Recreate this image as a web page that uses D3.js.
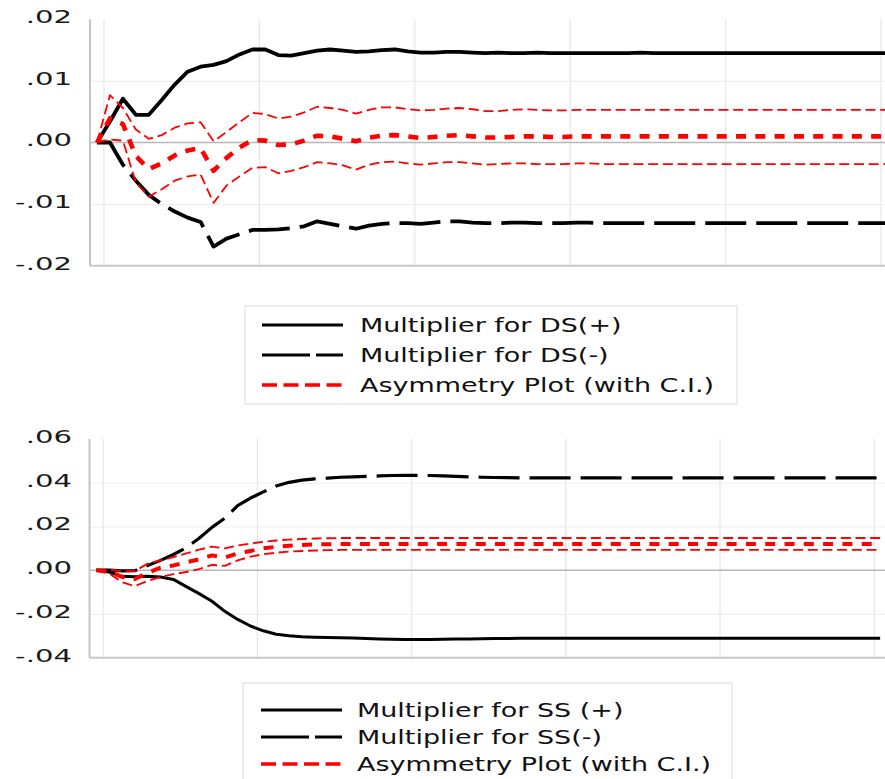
<!DOCTYPE html>
<html>
<head>
<meta charset="utf-8">
<script src="https://cdn.jsdelivr.net/npm/d3@7"></script>
<style>
  body { margin: 0; background: #fff; }
  svg { display: block; }
</style>
</head>
<body>
<div id="chart"></div>
<script>
// ! horizon (periods 0..61)
const periods = d3.range(62);

// ! top panel: DS multipliers
const dsPos = [0, 0.0034, 0.0071, 0.0045, 0.0045, 0.0069, 0.0094, 0.0115, 0.0123, 0.0126,
  0.0132, 0.0143, 0.0151, 0.0151, 0.0142, 0.0141, 0.0145, 0.0149, 0.0151, 0.0149,
  0.0147, 0.0148, 0.0150, 0.0151, 0.0148, 0.0146, 0.0146, 0.0147, 0.0147, 0.0146,
  0.0145, 0.0146, 0.0145, 0.0145, 0.0146, 0.0145, 0.0145, 0.0145, 0.0145, 0.0145,
  0.0145, 0.0145, 0.0146, 0.0145, 0.0145, 0.0145, 0.0145, 0.0145, 0.0145, 0.0145,
  0.0145, 0.0145, 0.0145, 0.0145, 0.0145, 0.0145, 0.0145, 0.0145, 0.0145, 0.0145,
  0.0145, 0.0145];
const dsNeg = [0, 0, -0.0036, -0.0062, -0.0085, -0.0100, -0.0112, -0.0122, -0.0129, -0.0169,
  -0.0156, -0.0149, -0.0142, -0.0142, -0.0141, -0.0139, -0.0136, -0.0128, -0.0132, -0.0136,
  -0.0140, -0.0135, -0.0132, -0.0131, -0.0131, -0.0132, -0.0130, -0.0128, -0.0128, -0.0130,
  -0.0131, -0.0131, -0.0130, -0.0130, -0.0131, -0.0131, -0.0131, -0.0130, -0.0130, -0.0131,
  -0.0131, -0.0131, -0.0131, -0.0131, -0.0131, -0.0131, -0.0131, -0.0131, -0.0131, -0.0131,
  -0.0131, -0.0131, -0.0131, -0.0131, -0.0131, -0.0131, -0.0131, -0.0131, -0.0131, -0.0131,
  -0.0131, -0.0131];
const dsAsym = [0, 0.0039, 0.0030, -0.0022, -0.0043, -0.0034, -0.0021, -0.0013, -0.0009, -0.0046,
  -0.0025, -0.0008, 0.0004, 0.0003, -0.0004, -0.0003, 0.0003, 0.0011, 0.0010, 0.0006,
  0.0002, 0.0008, 0.0011, 0.0012, 0.0010, 0.0007, 0.0009, 0.0011, 0.0012, 0.0010,
  0.0008, 0.0008, 0.0009, 0.0010, 0.0010, 0.0009, 0.0009, 0.0010, 0.0010, 0.0010,
  0.0010, 0.0010, 0.0010, 0.0010, 0.0010, 0.0010, 0.0010, 0.0010, 0.0010, 0.0010,
  0.0010, 0.0010, 0.0010, 0.0010, 0.0010, 0.0010, 0.0010, 0.0010, 0.0010, 0.0010,
  0.0010, 0.0010];
const dsUpper = [0, 0.0077, 0.0056, 0.0021, 0.0006, 0.0012, 0.0024, 0.0031, 0.0033, 0.0002,
  0.0017, 0.0033, 0.0048, 0.0046, 0.0039, 0.0042, 0.0049, 0.0058, 0.0056, 0.0053,
  0.0047, 0.0053, 0.0057, 0.0057, 0.0054, 0.0052, 0.0053, 0.0055, 0.0056, 0.0054,
  0.0051, 0.0051, 0.0053, 0.0054, 0.0053, 0.0052, 0.0052, 0.0053, 0.0053, 0.0053,
  0.0053, 0.0053, 0.0053, 0.0053, 0.0053, 0.0053, 0.0053, 0.0053, 0.0053, 0.0053,
  0.0053, 0.0053, 0.0053, 0.0053, 0.0053, 0.0053, 0.0053, 0.0053, 0.0053, 0.0053,
  0.0053, 0.0053];
const dsLower = [0, 0.0005, 0.0003, -0.0065, -0.0088, -0.0076, -0.0062, -0.0055, -0.0052, -0.0098,
  -0.0070, -0.0055, -0.0041, -0.0040, -0.0050, -0.0046, -0.0040, -0.0032, -0.0034, -0.0037,
  -0.0044, -0.0036, -0.0032, -0.0031, -0.0034, -0.0036, -0.0034, -0.0032, -0.0032, -0.0034,
  -0.0036, -0.0035, -0.0034, -0.0034, -0.0035, -0.0035, -0.0035, -0.0034, -0.0034, -0.0035,
  -0.0035, -0.0035, -0.0035, -0.0035, -0.0035, -0.0035, -0.0035, -0.0035, -0.0035, -0.0035,
  -0.0035, -0.0035, -0.0035, -0.0035, -0.0035, -0.0035, -0.0035, -0.0035, -0.0035, -0.0035,
  -0.0035, -0.0035];

// ! bottom panel: SS multipliers
const ssPos = [0, -0.0008, -0.0028, -0.0030, -0.0028, -0.0031, -0.0042, -0.0075, -0.0107, -0.0142,
  -0.0188, -0.0225, -0.0255, -0.0277, -0.0293, -0.0300, -0.0304, -0.0306, -0.0308, -0.0309,
  -0.0310, -0.0312, -0.0314, -0.0316, -0.0317, -0.0317, -0.0317, -0.0316, -0.0315, -0.0314,
  -0.0313, -0.0312, -0.0312, -0.0311, -0.0311, -0.0311, -0.0311, -0.0311, -0.0311, -0.0311,
  -0.0311, -0.0311, -0.0311, -0.0311, -0.0311, -0.0311, -0.0311, -0.0311, -0.0311, -0.0311,
  -0.0311, -0.0311, -0.0311, -0.0311, -0.0311, -0.0311, -0.0311, -0.0311, -0.0311, -0.0311,
  -0.0311, -0.0311];
const ssNeg = [0, 0, -0.0003, -0.0002, 0.0022, 0.0045, 0.0072, 0.0103, 0.0146, 0.0196,
  0.0238, 0.0295, 0.0330, 0.0358, 0.0385, 0.0402, 0.0412, 0.0418, 0.0421, 0.0425,
  0.0427, 0.0429, 0.0431, 0.0433, 0.0434, 0.0434, 0.0433, 0.0431, 0.0429, 0.0427,
  0.0425, 0.0424, 0.0423, 0.0422, 0.0422, 0.0422, 0.0422, 0.0422, 0.0422, 0.0422,
  0.0422, 0.0422, 0.0422, 0.0422, 0.0422, 0.0422, 0.0422, 0.0422, 0.0422, 0.0422,
  0.0422, 0.0422, 0.0422, 0.0422, 0.0422, 0.0422, 0.0422, 0.0422, 0.0422, 0.0422,
  0.0422, 0.0422];
const ssAsym = [0, -0.0008, -0.0030, -0.0040, -0.0012, 0.0012, 0.0022, 0.0036, 0.0050, 0.0068,
  0.0058, 0.0077, 0.0088, 0.0100, 0.0107, 0.0112, 0.0115, 0.0118, 0.0119, 0.0120,
  0.0120, 0.0120, 0.0120, 0.0120, 0.0120, 0.0120, 0.0120, 0.0120, 0.0120, 0.0120,
  0.0120, 0.0120, 0.0120, 0.0120, 0.0120, 0.0120, 0.0120, 0.0120, 0.0120, 0.0120,
  0.0120, 0.0120, 0.0120, 0.0120, 0.0120, 0.0120, 0.0120, 0.0120, 0.0120, 0.0120,
  0.0120, 0.0120, 0.0120, 0.0120, 0.0120, 0.0120, 0.0120, 0.0120, 0.0120, 0.0120,
  0.0120, 0.0120];
const ssUpper = [0, 0.0003, -0.0005, -0.0004, 0.0030, 0.0045, 0.0060, 0.0077, 0.0094, 0.0108,
  0.0100, 0.0113, 0.0122, 0.0130, 0.0136, 0.0140, 0.0143, 0.0145, 0.0146, 0.0147,
  0.0147, 0.0147, 0.0147, 0.0147, 0.0147, 0.0147, 0.0147, 0.0147, 0.0147, 0.0147,
  0.0147, 0.0147, 0.0147, 0.0147, 0.0147, 0.0147, 0.0147, 0.0147, 0.0147, 0.0147,
  0.0147, 0.0147, 0.0147, 0.0147, 0.0147, 0.0147, 0.0147, 0.0147, 0.0147, 0.0147,
  0.0147, 0.0147, 0.0147, 0.0147, 0.0147, 0.0147, 0.0147, 0.0147, 0.0147, 0.0147,
  0.0147, 0.0147];
const ssLower = [0, -0.0015, -0.0055, -0.0073, -0.0048, -0.0031, -0.0018, -0.0008, 0.0005, 0.0024,
  0.0020, 0.0045, 0.0062, 0.0073, 0.0080, 0.0085, 0.0088, 0.0090, 0.0092, 0.0093,
  0.0093, 0.0093, 0.0093, 0.0093, 0.0093, 0.0093, 0.0093, 0.0093, 0.0093, 0.0093,
  0.0093, 0.0093, 0.0093, 0.0093, 0.0093, 0.0093, 0.0093, 0.0093, 0.0093, 0.0093,
  0.0093, 0.0093, 0.0093, 0.0093, 0.0093, 0.0093, 0.0093, 0.0093, 0.0093, 0.0093,
  0.0093, 0.0093, 0.0093, 0.0093, 0.0093, 0.0093, 0.0093, 0.0093, 0.0093, 0.0093,
  0.0093, 0.0093];

// ! axis ticks and legend labels
const topTicks = [0.02, 0.01, 0, -0.01, -0.02];
const topTickLabels = [".02", ".01", ".00", "-.01", "-.02"];
const bottomTicks = [0.06, 0.04, 0.02, 0, -0.02, -0.04];
const bottomTickLabels = [".06", ".04", ".02", ".00", "-.02", "-.04"];
const gridPeriods = [0.5, 12.5, 24.5, 36.5, 48.5, 60.5];
const topLegend = ["Multiplier for DS(+)", "Multiplier for DS(-)", "Asymmetry Plot (with C.I.)"];
const bottomLegend = ["Multiplier for SS (+)", "Multiplier for SS(-)", "Asymmetry Plot (with C.I.)"];

const W = 885, H = 779;
const svg = d3.select("#chart").append("svg")
  .attr("width", W).attr("height", H)
  .style("background", "#fff");

function drawPanel(p) {
  const x = d3.scaleLinear().domain([0, 60]).range([p.x0, p.x0 + 60 * p.step]);
  const y = d3.scaleLinear().domain(p.yDomain).range([p.bottom, p.top]);
  const g = svg.append("g");

  // vertical gridlines
  g.append("g")
    .attr("transform", `translate(0,${p.bottom})`)
    .call(d3.axisBottom(x).tickValues(gridPeriods).tickSize(-(p.bottom - p.top)).tickFormat(""))
    .call((a) => a.select(".domain").remove())
    .selectAll("line").attr("stroke", "#e6e6e6").attr("stroke-width", 1.2);

  // horizontal gridlines
  g.append("g")
    .attr("transform", `translate(${p.axisX},0)`)
    .call(d3.axisLeft(y).tickValues(p.ticks.filter((t) => t !== 0 && t !== p.yDomain[0] && t !== p.yDomain[1]))
      .tickSize(-(W - p.axisX)).tickFormat(""))
    .call((a) => a.select(".domain").remove())
    .selectAll("line").attr("stroke", "#eeeeee").attr("stroke-width", 1.2);

  // zero line
  g.append("line")
    .attr("x1", p.axisX).attr("x2", W)
    .attr("y1", y(0)).attr("y2", y(0))
    .attr("stroke", "#b8b8b8").attr("stroke-width", 1.6);

  // axis frame (left + bottom)
  g.append("line")
    .attr("x1", p.axisX).attr("x2", p.axisX)
    .attr("y1", p.top).attr("y2", p.bottom)
    .attr("stroke", "#c4c4c4").attr("stroke-width", 2);
  g.append("line")
    .attr("x1", p.axisX).attr("x2", W)
    .attr("y1", p.bottom).attr("y2", p.bottom)
    .attr("stroke", "#c8c8c8").attr("stroke-width", 2);

  // tick labels (stretched like the original)
  g.selectAll(".tick-label")
    .data(p.ticks)
    .enter()
    .append("text")
    .attr("class", "tick-label")
    .attr("transform", (d) => `translate(72,${y(d) - 2.5}) scale(1.62,1)`)
    .attr("dy", "0.36em")
    .attr("text-anchor", "end")
    .attr("font-family", "'DejaVu Sans', Verdana, sans-serif")
    .attr("font-size", 18)
    .attr("fill", "#1a1a1a")
    .text((d, i) => p.tickLabels[i]);

  const line = d3.line()
    .x((d, i) => x(periods[i]))
    .y((d) => y(d));

  p.series.forEach((s) => {
    g.append("path")
      .datum(s.values)
      .attr("fill", "none")
      .attr("stroke", s.color)
      .attr("stroke-width", s.width)
      .attr("stroke-dasharray", s.dash)
      .attr("stroke-linejoin", "round")
      .attr("d", line);
  });

  // legend
  const lg = svg.append("g");
  lg.append("rect")
    .attr("x", p.legend.x).attr("y", p.legend.y)
    .attr("width", p.legend.w).attr("height", p.legend.h)
    .attr("fill", "#fff").attr("stroke", "#dcdcdc").attr("stroke-width", 1);

  const styles = [
    { color: "#000", dash: null, width: 3 },
    { color: "#000", dash: "48,6", width: 3 },
    { color: "#ff0000", dash: "15,6.5", width: 3.5 },
  ];
  p.legendLabels.forEach((label, i) => {
    const ly = p.legend.rowY + i * p.legend.rowGap;
    lg.append("line")
      .attr("x1", p.legend.lineX).attr("x2", p.legend.lineX + 81)
      .attr("y1", ly).attr("y2", ly)
      .attr("stroke", styles[i].color)
      .attr("stroke-width", styles[i].width)
      .attr("stroke-dasharray", styles[i].dash);
    lg.append("text")
      .attr("transform", `translate(${p.legend.textX},${ly}) scale(1.42,1)`)
      .attr("dy", "0.36em")
      .attr("font-family", "'DejaVu Sans', Verdana, sans-serif")
      .attr("font-size", 19)
      .attr("fill", "#111")
      .text(label);
  });
}

drawPanel({
  x0: 97, step: 12.95, axisX: 90, top: 19.3, bottom: 265.7,
  yDomain: [-0.02, 0.02], ticks: topTicks, tickLabels: topTickLabels,
  series: [
    { values: dsPos, color: "#000", width: 3.8, dash: null },
    { values: dsNeg, color: "#000", width: 3.8, dash: "41,10" },
    { values: dsAsym, color: "#ff0000", width: 4.6, dash: "10,9.3" },
    { values: dsUpper, color: "#ff0000", width: 1.8, dash: "10,4.7" },
    { values: dsLower, color: "#ff0000", width: 1.8, dash: "10,4.7" },
  ],
  legendLabels: topLegend,
  legend: { x: 245, y: 306, w: 492, h: 98, lineX: 262, textX: 360, rowY: 325, rowGap: 30 },
});

drawPanel({
  x0: 96.3, step: 12.85, axisX: 89.5, top: 439, bottom: 657.7,
  yDomain: [-0.04, 0.06], ticks: bottomTicks, tickLabels: bottomTickLabels,
  series: [
    { values: ssPos, color: "#000", width: 3, dash: null },
    { values: ssNeg, color: "#000", width: 3.2, dash: "41,10" },
    { values: ssAsym, color: "#ff0000", width: 4, dash: "10,9.3" },
    { values: ssUpper, color: "#ff0000", width: 1.9, dash: "10,4.7" },
    { values: ssLower, color: "#ff0000", width: 1.9, dash: "10,4.7" },
  ],
  legendLabels: bottomLegend,
  legend: { x: 243, y: 683, w: 489, h: 110, lineX: 261, textX: 357, rowY: 710, rowGap: 27 },
});
</script>
</body>
</html>
